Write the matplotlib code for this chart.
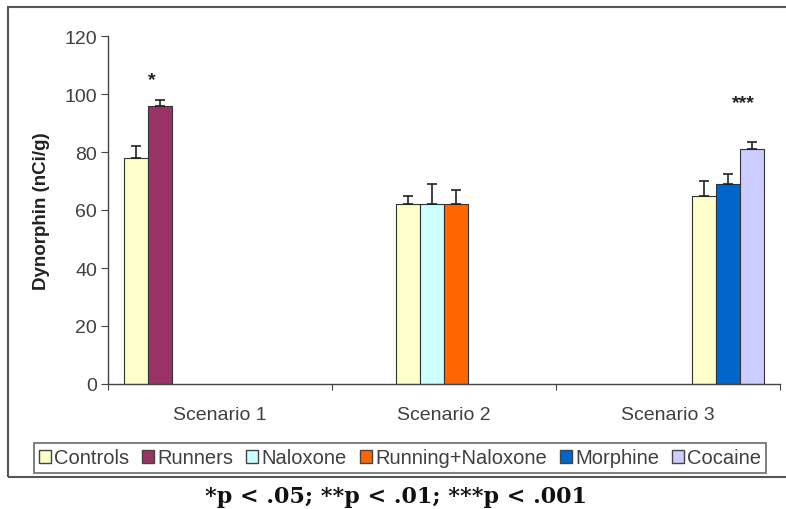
import numpy as np
import matplotlib
matplotlib.use("Agg")
import matplotlib.pyplot as plt
from matplotlib.patches import Rectangle, Patch

nan = np.nan
scenarios = ["Scenario 1", "Scenario 2", "Scenario 3"]

# 8 Excel-style series slots (Controls appears once per scenario)
slot_names = ["Controls", "Runners", "Controls", "Naloxone", "Running+Naloxone",
              "Controls", "Morphine", "Cocaine"]
slot_values = [
    [78, nan, nan],
    [96, nan, nan],
    [nan, 62, nan],
    [nan, 62, nan],
    [nan, 62, nan],
    [nan, nan, 65],
    [nan, nan, 69],
    [nan, nan, 81],
]
slot_errors = [
    [4, 0, 0],
    [2, 0, 0],
    [0, 3, 0],
    [0, 7, 0],
    [0, 5, 0],
    [0, 0, 5],
    [0, 0, 3.5],
    [0, 0, 2.5],
]
legend_names = ["Controls", "Runners", "Naloxone", "Running+Naloxone", "Morphine", "Cocaine"]
colors = {
    "Controls": "#FFFFCC",
    "Runners": "#993366",
    "Naloxone": "#CCFFFF",
    "Running+Naloxone": "#FF6600",
    "Morphine": "#0066CC",
    "Cocaine": "#CCCCFF",
}
signif_text = ["*", "", "***"]
signif_y = [105, nan, 97]
signif_slot = [1, None, 7]
yticks = [0, 20, 40, 60, 80, 100, 120]

W, H = 786, 510
fig = plt.figure(figsize=(W / 100, H / 100), dpi=100)
plt.rcParams['font.family'] = ['Liberation Sans', 'DejaVu Sans']

# outer chart border
fig.patches.append(Rectangle((8 / W, 1 - 478 / H), (800 - 8) / W, (478 - 8) / H,
                             transform=fig.transFigure, fill=False,
                             edgecolor="#555555", linewidth=1.5))

ax = fig.add_axes([108 / W, 1 - 385 / H, (780 - 108) / W, (385 - 37) / H])

n_slots = len(slot_names)
gap = 0.07
bw = (1 - 2 * gap) / n_slots
x = np.arange(len(scenarios))
for i, (name, vals, errs) in enumerate(zip(slot_names, slot_values, slot_errors)):
    pos = x - 0.5 + gap + bw * (i + 0.5)
    vals = np.array(vals, dtype=float)
    errs = np.array(errs, dtype=float)
    ax.bar(pos, vals, width=bw, color=colors[name], edgecolor="#333333",
           linewidth=0.8, zorder=2)
    mask = ~np.isnan(vals)
    ax.errorbar(pos[mask], vals[mask], yerr=[np.zeros(mask.sum()), errs[mask]],
                fmt="none", ecolor="#222222", elinewidth=1.2, capsize=3.5,
                capthick=1.2, zorder=3)

for k, (txt, yv, sl) in enumerate(zip(signif_text, signif_y, signif_slot)):
    if txt and sl is not None:
        pos = x[k] - 0.5 + gap + bw * (sl + 0.5)
        ax.text(pos - bw * 0.35, yv, txt, ha="center",
                va="center", fontsize=14, color="#222222", fontweight="bold")

fs = 14
ax.set_xlim(-0.5, len(scenarios) - 0.5)
ax.set_ylim(0, 120)
ax.set_yticks(yticks)
ax.set_yticklabels([str(v) for v in yticks], fontsize=fs, color="#404040")
ax.set_xticks(np.arange(len(scenarios) + 1) - 0.5)
ax.set_xticklabels([])
ax.set_xticks(x, minor=True)
ax.set_xticklabels(scenarios, minor=True, fontsize=fs, color="#404040")
ax.tick_params(axis="x", which="minor", length=0, pad=16)
ax.tick_params(axis="x", which="major", length=4, direction="out", color="#444444")
ax.tick_params(axis="y", length=5, direction="out", color="#444444", pad=3)
for s in ["top", "right"]:
    ax.spines[s].set_visible(False)
for s in ["left", "bottom"]:
    ax.spines[s].set_color("#444444")
    ax.spines[s].set_linewidth(1.0)
ax.set_ylabel("Dynorphin (nCi/g)", fontsize=13.5, fontweight="bold", color="#222222")
ax.yaxis.set_label_coords(-(108 - 50) / (780 - 108), 0.5)

handles = [Patch(facecolor=colors[n], edgecolor="#444444", linewidth=1.0) for n in legend_names]
leg = fig.legend(handles, legend_names, loc="center", ncol=6,
                 bbox_to_anchor=(400 / W, 1 - 459 / H), frameon=True, fancybox=False,
                 fontsize=14.5, handlelength=0.6, handleheight=0.6, handletextpad=0.15,
                 columnspacing=0.65, borderpad=0.25, borderaxespad=0)
leg.get_frame().set_edgecolor("#444444")
leg.get_frame().set_linewidth(1.2)
for t in leg.get_texts():
    t.set_color("#404040")

fig.text(396 / W, 1 - 497 / H, "*p < .05; **p < .01; ***p < .001", ha="center",
         va="center", fontsize=16, fontweight="bold", family="DejaVu Serif",
         color="#111111")

fig.savefig("out.png", dpi=100)
